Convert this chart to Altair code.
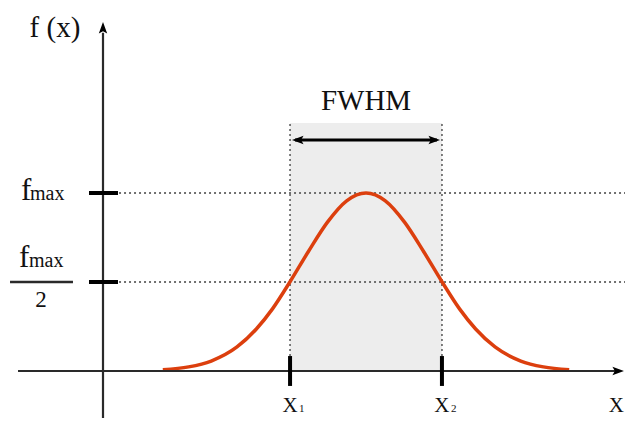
import altair as alt
import pandas as pd

# ---- data (x in units of sigma, y in units of f_max) ----
curve_x = [-3.15, -2.75, -2.4, -2.0, -1.7, -1.45, -1.18, -0.9, -0.6, -0.3, 0.0,
           0.3, 0.6, 0.9, 1.18, 1.45, 1.7, 2.0, 2.4, 2.75, 3.15]
curve_y = [0.007, 0.023, 0.056, 0.135, 0.236, 0.349, 0.5, 0.667, 0.835, 0.956, 1.0,
           0.956, 0.835, 0.667, 0.5, 0.349, 0.236, 0.135, 0.056, 0.023, 0.007]
half_x = [-1.1774, 1.1774]        # x1, x2
level_y = [1.0, 0.5]              # f_max, f_max/2

XMIN, XMAX = -5.5504, 4.0155
YMIN, YMAX = -0.2641, 2.0393

AX_X = -4.0775      # vertical axis position
BOX_TOP = 1.393
ARROW_Y = 1.298
LAB_Y = -0.228
FONT = "Liberation Serif"
INK = "#111111"

xs = alt.Scale(domain=[XMIN, XMAX], nice=False, zero=False)
ys = alt.Scale(domain=[YMIN, YMAX], nice=False, zero=False)

def X(f="x"):
    return alt.X(f"{f}:Q", scale=xs, axis=None)

def Y(f="y"):
    return alt.Y(f"{f}:Q", scale=ys, axis=None)

# shaded FWHM box
box = alt.Chart(pd.DataFrame({"x": [half_x[0]], "x2": [half_x[1]], "y": [0.0], "y2": [BOX_TOP]})).mark_rect(
    color="#ededed").encode(x=X(), x2="x2", y=Y(), y2="y2")

# dotted guides
hdots = alt.Chart(pd.DataFrame({"x": [-3.829] * 2, "x2": [XMAX] * 2, "y": level_y})).mark_rule(
    color="#707070", strokeWidth=1.8, strokeDash=[2, 3]).encode(x=X(), x2="x2", y=Y())
vdots = alt.Chart(pd.DataFrame({"x": half_x, "y": [0.0] * 2, "y2": [BOX_TOP] * 2})).mark_rule(
    color="#707070", strokeWidth=1.8, strokeDash=[2, 3]).encode(x=X(), y=Y(), y2="y2")

# curve
curve = alt.Chart(pd.DataFrame({"x": curve_x, "y": curve_y})).mark_line(
    color="#dc3f0e", strokeWidth=3.5, interpolate="monotone").encode(x=X(), y=Y())

# axes lines
xaxis = alt.Chart(pd.DataFrame({"x": [-5.395], "x2": [3.88], "y": [0.0]})).mark_rule(
    color="#2a2a2a", strokeWidth=2.2).encode(x=X(), x2="x2", y=Y())
yaxis = alt.Chart(pd.DataFrame({"x": [AX_X], "y": [YMIN], "y2": [1.90]})).mark_rule(
    color="#2a2a2a", strokeWidth=2.2).encode(x=X(), y=Y(), y2="y2")

# ticks
yticks = alt.Chart(pd.DataFrame({"x": [-4.295] * 2, "x2": [-3.845] * 2, "y": level_y})).mark_rule(
    color="black", strokeWidth=4).encode(x=X(), x2="x2", y=Y())
xticks = alt.Chart(pd.DataFrame({"x": half_x, "y": [-0.084] * 2, "y2": [0.084] * 2})).mark_rule(
    color="black", strokeWidth=4).encode(x=X(), y=Y(), y2="y2")

# FWHM double arrow shaft
shaft = alt.Chart(pd.DataFrame({"x": [-1.10], "x2": [1.10], "y": [ARROW_Y]})).mark_rule(
    color="black", strokeWidth=3).encode(x=X(), x2="x2", y=Y())

ARROW = "M0,-1L0.6,0.65L0,0.3L-0.6,0.65Z"
heads = alt.Chart(pd.DataFrame({
    "x": [AX_X, 3.891, -1.039, 1.039],
    "y": [1.921, 0.0, ARROW_Y, ARROW_Y],
    "ang": [0, 90, 270, 90],
})).mark_point(shape=ARROW, filled=True, color="black", size=196, opacity=1).encode(
    x=X(), y=Y(), angle=alt.Angle("ang:Q", scale=None))

# fraction bar
frac = alt.Chart(pd.DataFrame({"x": [-5.519], "x2": [-4.543], "y": [0.5]})).mark_rule(
    color="#2a2a2a", strokeWidth=2.5).encode(x=X(), x2="x2", y=Y())

def text(rows, size, align):
    df = pd.DataFrame(rows, columns=["x", "y", "t"])
    return alt.Chart(df).mark_text(font=FONT, fontSize=size, align=align, baseline="alphabetic",
                                   color=INK).encode(x=X(), y=Y(), text="t:N")

t_fx = text([(-4.822, 1.876, "f (x)")], 29, "center")
t_fwhm = text([(0.0, 1.466, "FWHM")], 29, "center")
t_f = text([(-5.349, 0.961, "f"), (-5.380, 0.584, "f")], 31, "left")
t_max = text([(-5.209, 0.961, "max"), (-5.225, 0.584, "max")], 20, "left")
t_two = text([(-5.039, 0.36, "2")], 23, "center")
t_X = text([(half_x[0], LAB_Y, "X"), (half_x[1], LAB_Y, "X")], 21, "center")
t_Xr = text([(4.0, LAB_Y, "X")], 21, "right")
t_sub = text([(-1.040, LAB_Y, "1"), (1.316, LAB_Y, "2")], 11, "left")

chart = alt.layer(
    box, hdots, vdots, curve, xaxis, yaxis, yticks, xticks, shaft, heads, frac,
    t_fx, t_fwhm, t_f, t_max, t_two, t_X, t_Xr, t_sub,
).properties(
    width=617, height=410, padding=0,
    autosize=alt.AutoSizeParams(type="none"),
    background="white",
).configure_view(stroke=None)

chart.save("out.html", embed_options={"renderer": "svg", "actions": False})
